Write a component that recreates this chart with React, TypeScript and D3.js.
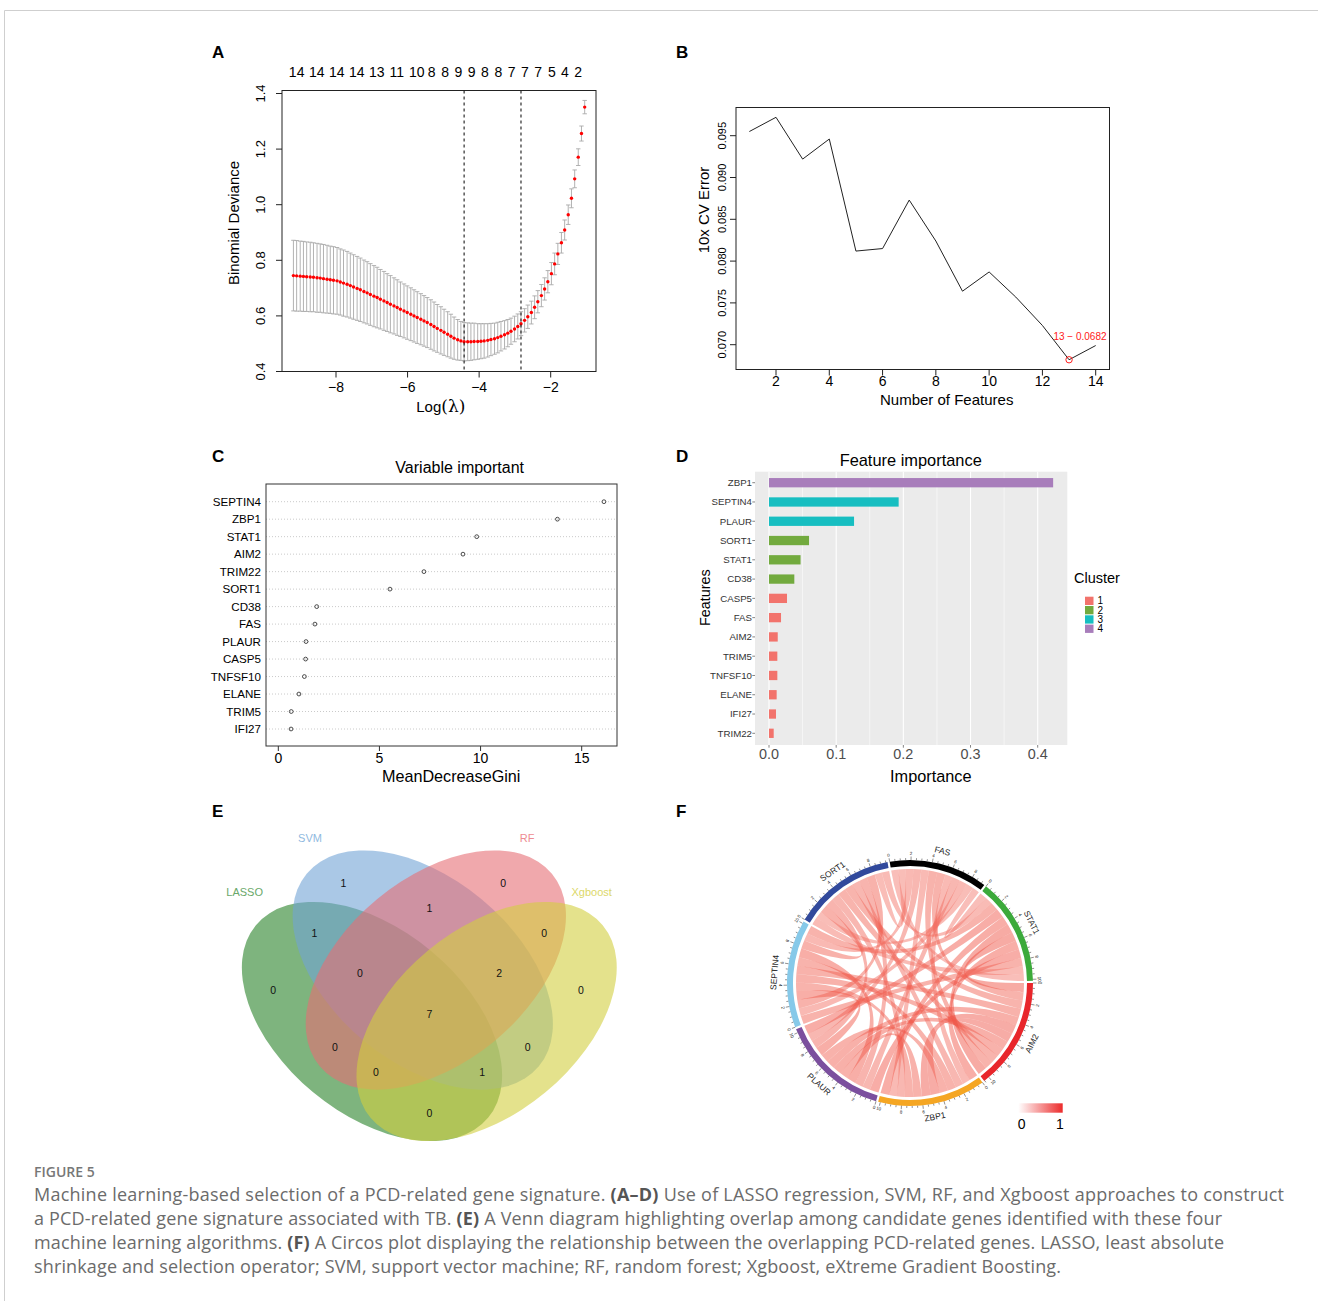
import * as d3 from "d3";

const SANS = "'Liberation Sans', Arial, Helvetica, sans-serif";
const CAPTION_FONT = "'Open Sans', 'Noto Sans', sans-serif";

// ---------- A: LASSO cross-validation ----------
const lassoLogLambda = [
  -9.19, -9.10, -9.00, -8.91, -8.82, -8.72, -8.63, -8.53, -8.44, -8.35,
  -8.25, -8.16, -8.07, -7.97, -7.88, -7.79, -7.69, -7.60, -7.51, -7.41,
  -7.32, -7.22, -7.13, -7.04, -6.94, -6.85, -6.76, -6.66, -6.57, -6.48,
  -6.38, -6.29, -6.20, -6.10, -6.01, -5.91, -5.82, -5.73, -5.63, -5.54,
  -5.45, -5.35, -5.26, -5.17, -5.07, -4.98, -4.88, -4.79, -4.70, -4.60,
  -4.51, -4.42, -4.32, -4.23, -4.14, -4.04, -3.95, -3.86, -3.76, -3.67,
  -3.57, -3.48, -3.39, -3.29, -3.20, -3.11, -3.01, -2.92, -2.83, -2.73,
  -2.64, -2.54, -2.45, -2.36, -2.26, -2.17, -2.08, -1.98, -1.89, -1.80,
  -1.70, -1.61, -1.51, -1.42, -1.33, -1.23, -1.14, -1.05,
];
const lassoDeviance = [
  0.745, 0.744, 0.743, 0.742, 0.741, 0.740, 0.739, 0.737, 0.736, 0.734,
  0.732, 0.730, 0.728, 0.726, 0.722, 0.718, 0.714, 0.709, 0.704, 0.699,
  0.694, 0.688, 0.683, 0.677, 0.671, 0.666, 0.660, 0.654, 0.648, 0.642,
  0.636, 0.630, 0.624, 0.618, 0.612, 0.606, 0.600, 0.594, 0.588, 0.582,
  0.576, 0.569, 0.562, 0.555, 0.548, 0.541, 0.534, 0.527, 0.520, 0.514,
  0.510, 0.507, 0.507, 0.507, 0.508, 0.508, 0.509, 0.510, 0.512, 0.515,
  0.518, 0.522, 0.527, 0.532, 0.538, 0.545, 0.553, 0.562, 0.572, 0.584,
  0.597, 0.612, 0.631, 0.651, 0.673, 0.697, 0.723, 0.752, 0.787, 0.823,
  0.863, 0.909, 0.964, 1.023, 1.093, 1.171, 1.256, 1.351,
];
const lassoSE = [
  0.127, 0.127, 0.126, 0.126, 0.125, 0.125, 0.124, 0.124, 0.123, 0.123,
  0.122, 0.121, 0.121, 0.120, 0.119, 0.119, 0.118, 0.117, 0.116, 0.115,
  0.114, 0.113, 0.112, 0.111, 0.110, 0.109, 0.107, 0.106, 0.104, 0.103,
  0.101, 0.100, 0.098, 0.097, 0.096, 0.095, 0.094, 0.093, 0.092, 0.091,
  0.090, 0.089, 0.088, 0.086, 0.085, 0.083, 0.081, 0.079, 0.076, 0.073,
  0.070, 0.069, 0.068, 0.067, 0.066, 0.064, 0.063, 0.062, 0.060, 0.058,
  0.056, 0.055, 0.053, 0.051, 0.049, 0.047, 0.046, 0.045, 0.043, 0.042,
  0.042, 0.041, 0.041, 0.040, 0.040, 0.040, 0.040, 0.040, 0.039, 0.038,
  0.037, 0.036, 0.035, 0.034, 0.032, 0.030, 0.027, 0.024,
];
const lassoTopLambda = [
  -9.10, -8.54, -7.98, -7.42, -6.86, -6.30, -5.74, -5.33, -4.95, -4.58,
  -4.21, -3.84, -3.46, -3.09, -2.72, -2.35, -1.97, -1.60, -1.23,
];
const lassoTopCounts = [14, 14, 14, 14, 13, 11, 10, 8, 8, 9, 9, 8, 8, 7, 7, 7, 5, 4, 2];
const lassoLambdaMin = -4.42;
const lassoLambda1se = -2.83;

// ---------- B: SVM-RFE ----------
const rfeFeatures = [1, 2, 3, 4, 5, 6, 7, 8, 9, 10, 11, 12, 13, 14];
const rfeError = [0.0955, 0.0972, 0.0922, 0.0946, 0.0812, 0.0815, 0.0873, 0.0824, 0.0764, 0.0787, 0.0757, 0.0723, 0.0682, 0.0699];

// ---------- C: random forest ----------
const giniGenes = ["SEPTIN4", "ZBP1", "STAT1", "AIM2", "TRIM22", "SORT1", "CD38", "FAS", "PLAUR", "CASP5", "TNFSF10", "ELANE", "TRIM5", "IFI27"];
const giniValues = [16.1, 13.8, 9.81, 9.13, 7.2, 5.52, 1.9, 1.81, 1.37, 1.35, 1.29, 1.02, 0.64, 0.63];

// ---------- D: Xgboost ----------
const xgbGenes = ["ZBP1", "SEPTIN4", "PLAUR", "SORT1", "STAT1", "CD38", "CASP5", "FAS", "AIM2", "TRIM5", "TNFSF10", "ELANE", "IFI27", "TRIM22"];
const xgbImportance = [0.423, 0.193, 0.1266, 0.0596, 0.047, 0.0377, 0.0268, 0.0179, 0.013, 0.0124, 0.0124, 0.0114, 0.0104, 0.007];
const xgbCluster = [4, 3, 3, 2, 2, 2, 1, 1, 1, 1, 1, 1, 1, 1];
const clusterLevels = [1, 2, 3, 4];
const clusterColors = ["#f2736c", "#72aa3e", "#17bec1", "#a87dbb"];

// ---------- E: Venn ----------
const vennSets = ["LASSO", "SVM", "RF", "Xgboost"];
const vennFill = ["#288228", "#71a3d5", "#e66e75", "#d2cf3f"];
const vennLabelColor = ["#6aa86a", "#8fb9e0", "#ee8c92", "#dcd86a"];
const vennRegions = ["B", "C", "BC", "AB", "CD", "A", "D", "ABC", "BCD", "ABCD", "AC", "BD", "ACD", "ABD", "AD"];
const vennCounts = [1, 0, 1, 1, 0, 0, 0, 0, 2, 7, 0, 0, 0, 1, 0];
// layout in unit coordinates
const vennEllipses = [
  { cx: 0.3712, cy: 0.47, rot: 39.7 },
  { cx: 0.4853, cy: 0.5857, rot: 39.7 },
  { cx: 0.5147, cy: 0.5857, rot: -39.7 },
  { cx: 0.6288, cy: 0.47, rot: -39.7 },
];
const vennAxes = { a: 0.339, b: 0.207 };
const vennRegionPos = [
  [0.307, 0.779], [0.666, 0.779], [0.5, 0.724], [0.242, 0.668], [0.758, 0.668],
  [0.149, 0.539], [0.841, 0.539], [0.344, 0.577], [0.657, 0.577], [0.5, 0.485],
  [0.288, 0.411], [0.721, 0.411], [0.38, 0.355], [0.619, 0.355], [0.5, 0.264],
];
const vennSetLabelPos = [[0.085, 0.762], [0.232, 0.882], [0.72, 0.882], [0.865, 0.762]];

// ---------- F: Circos ----------
const circosGenes = ["AIM2", "ZBP1", "PLAUR", "SEPTIN4", "SORT1", "FAS", "STAT1"];
const circosColors = ["#e8262b", "#f5a623", "#7b4f9e", "#86c9e9", "#31499c", "#000000", "#3caa3b"];
const circosCorr = [
  [0, 0.92, 0.88, 0.86, 0.84, 0.85, 0.93],
  [0.92, 0, 0.86, 0.85, 0.80, 0.77, 0.90],
  [0.88, 0.86, 0, 0.90, 0.83, 0.80, 0.91],
  [0.86, 0.85, 0.90, 0, 0.86, 0.78, 0.85],
  [0.84, 0.80, 0.83, 0.86, 0, 0.74, 0.76],
  [0.85, 0.77, 0.80, 0.78, 0.74, 0, 0.72],
  [0.93, 0.90, 0.91, 0.85, 0.76, 0.72, 0],
];

const captionLines = [
  { parts: [["Machine learning-based selection of a PCD-related gene signature. ", 0], ["(A\u2013D)", 1], [" Use of LASSO regression, SVM, RF, and Xgboost approaches to construct", 0]], width: 1250 },
  { parts: [["a PCD-related gene signature associated with TB. ", 0], ["(E)", 1], [" A Venn diagram highlighting overlap among candidate genes identified with these four", 0]], width: 1188 },
  { parts: [["machine learning algorithms. ", 0], ["(F)", 1], [" A Circos plot displaying the relationship between the overlapping PCD-related genes. LASSO, least absolute", 0]], width: 1190 },
  { parts: [["shrinkage and selection operator; SVM, support vector machine; RF, random forest; Xgboost, eXtreme Gradient Boosting.", 0]], width: 1027 },
];

const rminus = (v: number) => (v < 0 ? "\u2212" + Math.abs(v) : String(v));

function PanelLabel({ x, y, t }: { x: number; y: number; t: string }) {
  return <text x={x} y={y} fontSize={17} fontWeight="bold">{t}</text>;
}

function PanelA() {
  const box = { l: 282, r: 596, t: 90.5, b: 371.5 };
  const x = d3.scaleLinear().domain([-8, -2]).range([336, 550.7]);
  const y = d3.scaleLinear().domain([0.4, 1.4]).range([371.5, 93.5]);
  const xt = [-8, -6, -4, -2];
  const yt = y.ticks(5);
  return (
    <g>
      <PanelLabel x={212} y={58} t="A" />
      {lassoTopCounts.map((c, i) => (
        <text key={i} x={x(lassoTopLambda[i])} y={77} textAnchor="middle" fontSize={14}>{c}</text>
      ))}
      {lassoLogLambda.map((l, i) => {
        const px = x(l);
        const y0 = y(lassoDeviance[i] - lassoSE[i]);
        const y1 = y(lassoDeviance[i] + lassoSE[i]);
        return (
          <g key={i} stroke="#a9a9a9" strokeWidth={0.9}>
            <line x1={px} x2={px} y1={y0} y2={y1} />
            <line x1={px - 2.2} x2={px + 2.2} y1={y0} y2={y0} />
            <line x1={px - 2.2} x2={px + 2.2} y1={y1} y2={y1} />
          </g>
        );
      })}
      {lassoLogLambda.map((l, i) => (
        <circle key={i} cx={x(l)} cy={y(lassoDeviance[i])} r={1.7} fill="#ff0000" />
      ))}
      {[lassoLambdaMin, lassoLambda1se].map((l) => (
        <line key={l} x1={x(l)} x2={x(l)} y1={box.t} y2={box.b} stroke="#000" strokeDasharray="3,3" />
      ))}
      <rect x={box.l} y={box.t} width={box.r - box.l} height={box.b - box.t} fill="none" stroke="#222" />
      {xt.map((t) => (
        <g key={t}>
          <line x1={x(t)} x2={x(t)} y1={box.b} y2={box.b + 6} stroke="#222" />
          <text x={x(t)} y={392} textAnchor="middle" fontSize={14}>{rminus(t)}</text>
        </g>
      ))}
      {yt.map((t) => (
        <g key={t}>
          <line x1={box.l} x2={box.l - 6} y1={y(t)} y2={y(t)} stroke="#222" />
          <text transform={`translate(265,${y(t)}) rotate(-90)`} textAnchor="middle" fontSize={13}>{d3.format(".1f")(t)}</text>
        </g>
      ))}
      <text x={440.8} y={412} textAnchor="middle" fontSize={15}>
        {"Log"}<tspan fontFamily="'DejaVu Serif', serif" fontSize={17}>{"(\u03bb)"}</tspan>
      </text>
      <text transform="translate(238.5,223) rotate(-90)" textAnchor="middle" fontSize={15}>Binomial Deviance</text>
    </g>
  );
}

function PanelB() {
  const box = { l: 736, r: 1109.5, t: 107.5, b: 369.5 };
  const x = d3.scaleLinear().domain([2, 14]).range([776, 1095.7]);
  const y = d3.scaleLinear().domain([0.07, 0.095]).range([344.7, 135.7]);
  const line = d3.line<number>().x((_, i) => x(rfeFeatures[i])).y((d) => y(d));
  const yt = [0.07, 0.075, 0.08, 0.085, 0.09, 0.095];
  const best = d3.minIndex(rfeError);
  return (
    <g>
      <PanelLabel x={676} y={58} t="B" />
      <path d={line(rfeError) as string} fill="none" stroke="#222" strokeWidth={1} />
      <circle cx={x(rfeFeatures[best])} cy={y(rfeError[best])} r={3.2} fill="none" stroke="#ff2020" strokeWidth={1} />
      <text x={1080} y={339.5} textAnchor="middle" fontSize={10} fill="#ff2020">
        {`${rfeFeatures[best]} \u2212 ${rfeError[best]}`}
      </text>
      <rect x={box.l} y={box.t} width={box.r - box.l} height={box.b - box.t} fill="none" stroke="#222" />
      {d3.range(2, 15, 2).map((t) => (
        <g key={t}>
          <line x1={x(t)} x2={x(t)} y1={box.b} y2={box.b + 6} stroke="#222" />
          <text x={x(t)} y={386} textAnchor="middle" fontSize={14}>{t}</text>
        </g>
      ))}
      {yt.map((t) => (
        <g key={t}>
          <line x1={box.l} x2={box.l - 6} y1={y(t)} y2={y(t)} stroke="#222" />
          <text transform={`translate(725.5,${y(t)}) rotate(-90)`} textAnchor="middle" fontSize={11}>{d3.format(".3f")(t)}</text>
        </g>
      ))}
      <text x={946.7} y={404.5} textAnchor="middle" fontSize={15}>Number of Features</text>
      <text transform="translate(708.5,210) rotate(-90)" textAnchor="middle" fontSize={15}>10x CV Error</text>
    </g>
  );
}

function PanelC() {
  const box = { l: 266, r: 617, t: 484, b: 746 };
  const x = d3.scaleLinear().domain([0, 15]).range([278.3, 581.7]);
  const y = d3.scalePoint<string>().domain(giniGenes).range([501.7, 729]);
  return (
    <g>
      <PanelLabel x={212} y={462} t="C" />
      <text x={459.7} y={473} textAnchor="middle" fontSize={16}>Variable important</text>
      {giniGenes.map((g, i) => (
        <g key={g}>
          <line x1={box.l} x2={box.r} y1={y(g)} y2={y(g)} stroke="#bdbdbd" strokeWidth={0.8} strokeDasharray="1,2" />
          <circle cx={x(giniValues[i])} cy={y(g)} r={1.9} fill="none" stroke="#222" strokeWidth={0.8} />
          <text x={261} y={(y(g) as number) + 4} textAnchor="end" fontSize={11.6}>{g}</text>
        </g>
      ))}
      <rect x={box.l} y={box.t} width={box.r - box.l} height={box.b - box.t} fill="none" stroke="#333" />
      {[0, 5, 10, 15].map((t) => (
        <g key={t}>
          <line x1={x(t)} x2={x(t)} y1={box.b} y2={box.b + 5} stroke="#333" />
          <text x={x(t)} y={763} textAnchor="middle" fontSize={14}>{t}</text>
        </g>
      ))}
      <text x={451.2} y={782} textAnchor="middle" fontSize={16.2}>MeanDecreaseGini</text>
    </g>
  );
}

function PanelD() {
  const panel = { l: 755, r: 1067.3, t: 471.7, b: 745 };
  const x = d3.scaleLinear().domain([0, 0.4]).range([769, 1037.7]);
  const y = d3.scalePoint<string>().domain(xgbGenes).range([482.7, 733.3]);
  const barH = 9.3;
  const color = d3.scaleOrdinal<number, string>().domain(clusterLevels).range(clusterColors);
  const major = [0, 0.1, 0.2, 0.3, 0.4];
  const minor = [0.05, 0.15, 0.25, 0.35];
  return (
    <g>
      <PanelLabel x={676} y={462} t="D" />
      <text x={910.7} y={466} textAnchor="middle" fontSize={16.4}>Feature importance</text>
      <rect x={panel.l} y={panel.t} width={panel.r - panel.l} height={panel.b - panel.t} fill="#ebebeb" />
      {minor.map((t) => (
        <line key={t} x1={x(t)} x2={x(t)} y1={panel.t} y2={panel.b} stroke="#fff" strokeWidth={0.55} />
      ))}
      {major.map((t) => (
        <line key={t} x1={x(t)} x2={x(t)} y1={panel.t} y2={panel.b} stroke="#fff" strokeWidth={1.1} />
      ))}
      {xgbGenes.map((g, i) => (
        <g key={g}>
          <rect x={x(0)} y={(y(g) as number) - barH / 2} width={x(xgbImportance[i]) - x(0)} height={barH} fill={color(xgbCluster[i])} />
          <line x1={panel.l - 2.7} x2={panel.l} y1={y(g)} y2={y(g)} stroke="#333" strokeWidth={0.6} />
          <text x={752} y={(y(g) as number) + 3.4} textAnchor="end" fontSize={9.7} fill="#333">{g}</text>
        </g>
      ))}
      {major.map((t) => (
        <g key={t}>
          <line x1={x(t)} x2={x(t)} y1={panel.b} y2={panel.b + 2.7} stroke="#333" strokeWidth={0.6} />
          <text x={x(t)} y={758.5} textAnchor="middle" fontSize={14.4} fill="#4d4d4d">{d3.format(".1f")(t)}</text>
        </g>
      ))}
      <text x={930.8} y={782} textAnchor="middle" fontSize={16.3}>Importance</text>
      <text transform="translate(710,597.7) rotate(-90)" textAnchor="middle" fontSize={14.4}>Features</text>
      <text x={1074} y={583.3} fontSize={14.5}>Cluster</text>
      {clusterLevels.map((c, i) => (
        <g key={c}>
          <rect x={1085} y={596.7 + i * 9.3} width={8.5} height={8.3} fill={color(c)} />
          <text x={1097.5} y={604.3 + i * 9.3} fontSize={10}>{c}</text>
        </g>
      ))}
    </g>
  );
}

function PanelE() {
  const s = 445;
  const ux = d3.scaleLinear().domain([0, 1]).range([429.3 - 0.5 * s, 429.3 + 0.5 * s]);
  const uy = d3.scaleLinear().domain([0, 1]).range([977 + 0.57 * s, 977 - 0.43 * s]);
  return (
    <g>
      <PanelLabel x={212} y={817} t="E" />
      {vennEllipses.map((e, i) => (
        <ellipse key={i} cx={ux(e.cx)} cy={uy(e.cy)} rx={vennAxes.a * s} ry={vennAxes.b * s}
          transform={`rotate(${e.rot} ${ux(e.cx)} ${uy(e.cy)})`} fill={vennFill[i]} fillOpacity={0.6} />
      ))}
      {vennSets.map((n, i) => (
        <text key={n} x={ux(vennSetLabelPos[i][0])} y={uy(vennSetLabelPos[i][1]) + 4} textAnchor="middle" fontSize={11} fill={vennLabelColor[i]}>{n}</text>
      ))}
      {vennRegions.map((r, i) => (
        <text key={r} x={ux(vennRegionPos[i][0])} y={uy(vennRegionPos[i][1]) + 3.5} textAnchor="middle" fontSize={10.5} fill="#111">{vennCounts[i]}</text>
      ))}
    </g>
  );
}

function tangent(angle: number, r: number) {
  const x = r * Math.sin(angle);
  const y = -r * Math.cos(angle);
  let deg = ((angle * 180) / Math.PI) % 360;
  if (deg < 0) deg += 360;
  const rot = deg > 90 && deg < 270 ? deg - 180 : deg;
  return { x, y, rot };
}

function PanelF() {
  const cx = 910, cy = 983;
  const offset = Math.PI / 2; // circlize starts at 3 o'clock
  const chords = d3.chordDirected().padAngle(0.018)(circosCorr as any);
  const ribbon = (d3.ribbon() as any).radius(114);
  const trackArc = d3.arc<any>().innerRadius(117).outerRadius(123);
  const linkColor = d3.scaleLinear<string>().domain([0, 1]).range(["#ffffff", "#ee4030"]).interpolate(d3.interpolateRgb);
  const ticks = chords.groups.flatMap((g: any) => {
    const k = (g.endAngle - g.startAngle) / g.value;
    return d3.range(0, g.value + 1e-9, 0.5).map((v) => ({ g: g.index, v, a: g.startAngle + v * k + offset, major: Math.abs(v % 2) < 1e-9 }));
  });
  return (
    <g>
      <PanelLabel x={676} y={817} t="F" />
      <defs>
        <linearGradient id="corrGrad" x1="0" x2="1" y1="0" y2="0">
          <stop offset="0" stopColor="#ffffff" />
          <stop offset="1" stopColor="#ec2b2b" />
        </linearGradient>
      </defs>
      <g transform={`translate(${cx},${cy})`}>
        <g transform="rotate(90)">
          {chords.map((c: any, i: number) => (
            <path key={i} d={ribbon(c)} fill={linkColor(circosCorr[c.source.index][c.target.index])} fillOpacity={0.47} stroke="none" />
          ))}
          {chords.groups.map((g: any) => (
            <path key={g.index} d={trackArc(g) as string} fill={circosColors[g.index]} />
          ))}
        </g>
        {ticks.map((t: any, i: number) => {
          const p0 = tangent(t.a, 123);
          const p1 = tangent(t.a, t.major ? 126.5 : 125);
          return <line key={i} x1={p0.x} y1={p0.y} x2={p1.x} y2={p1.y} stroke="#222" strokeWidth={0.5} />;
        })}
        {ticks.filter((t: any) => t.major).map((t: any, i: number) => {
          const p = tangent(t.a, 129.5);
          return (
            <text key={i} transform={`translate(${p.x},${p.y}) rotate(${p.rot})`} textAnchor="middle" dominantBaseline="central" fontSize={4.5} fill="#222">{t.v}</text>
          );
        })}
        {chords.groups.map((g: any) => {
          const p = tangent((g.startAngle + g.endAngle) / 2 + offset, 136);
          return (
            <text key={g.index} transform={`translate(${p.x},${p.y}) rotate(${p.rot})`} textAnchor="middle" dominantBaseline="central" fontSize={8.5} fill="#222">{circosGenes[g.index]}</text>
          );
        })}
      </g>
      <rect x={1018.3} y={1103.3} width={44.4} height={9.4} fill="url(#corrGrad)" />
      <text x={1021.7} y={1128.5} textAnchor="middle" fontSize={14}>0</text>
      <text x={1060} y={1128.5} textAnchor="middle" fontSize={14}>1</text>
    </g>
  );
}

function Caption() {
  return (
    <g fontFamily={CAPTION_FONT}>
      <text x={34} y={1176.5} fontSize={14} fontWeight={600} fill="#777">FIGURE 5</text>
      {captionLines.map((l, i) => (
        <text key={i} x={34} y={1201 + i * 24} fontSize={18} fill="#6b6b6b" textLength={l.width} lengthAdjust="spacing">
          {l.parts.map((p, j) => (
            <tspan key={j} fontWeight={p[1] ? "bold" : "normal"} fill={p[1] ? "#555" : "#6b6b6b"}>{p[0] as string}</tspan>
          ))}
        </text>
      ))}
    </g>
  );
}

export default function App() {
  return (
    <svg width={1318} height={1301} style={{ position: "absolute", left: 0, top: 0 }} fontFamily={SANS}>
      <rect width={1318} height={1301} fill="#fff" />
      <path d="M4.5,1301 V10.5 H1318" fill="none" stroke="#cfcfcf" strokeWidth={1} />
      <PanelA />
      <PanelB />
      <PanelC />
      <PanelD />
      <PanelE />
      <PanelF />
      <Caption />
    </svg>
  );
}
